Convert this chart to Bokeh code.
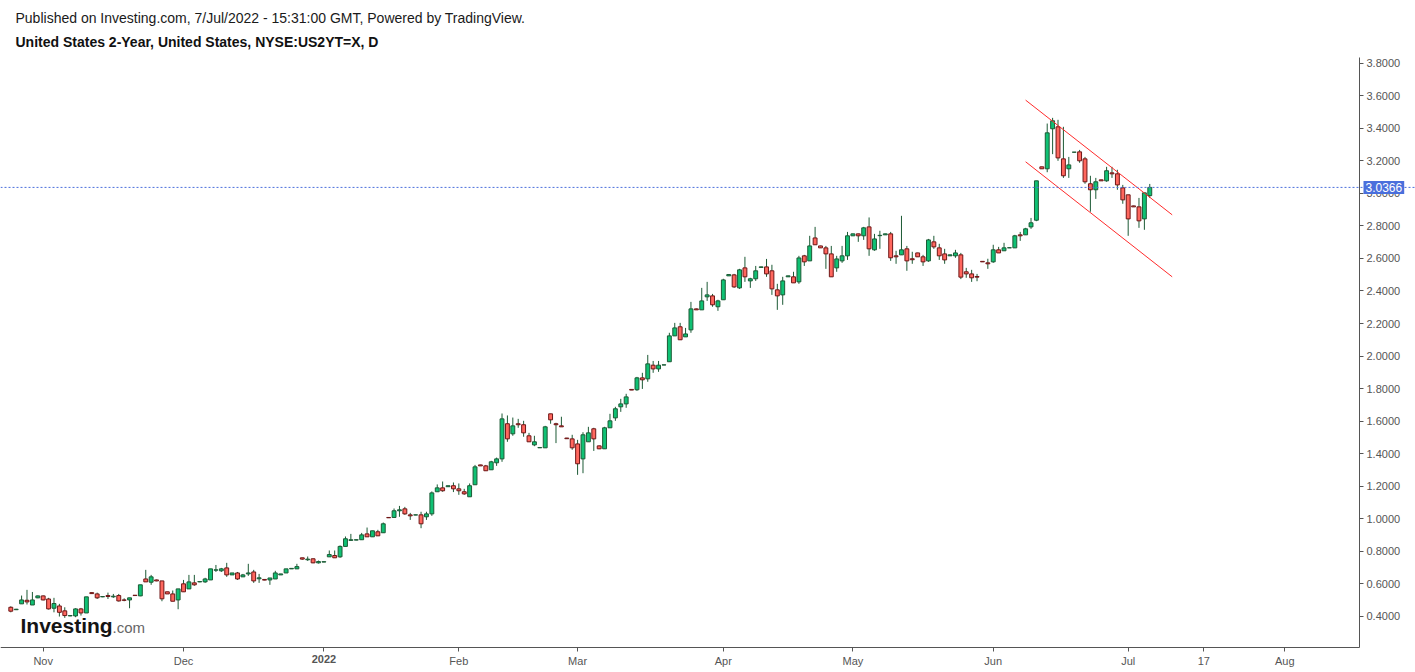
from bokeh.plotting import figure
from bokeh.models import Range1d, FixedTicker, NumeralTickFormatter, Span, Label, ColumnDataSource
from bokeh.embed import file_html
from bokeh.resources import INLINE

# ---------------- data (daily bars) ----------------
opens = [0.456, 0.441, 0.477, 0.499, 0.470, 0.514, 0.526, 0.507, 0.450, 0.464,
         0.434, 0.403, 0.403, 0.446, 0.421, 0.546, 0.538, 0.520, 0.528, 0.520,
         0.528, 0.501, 0.501, 0.530, 0.526, 0.630, 0.610, 0.624, 0.618, 0.551,
         0.538, 0.501, 0.600, 0.569, 0.606, 0.612, 0.612, 0.624, 0.684, 0.680,
         0.698, 0.655, 0.667, 0.643, 0.661, 0.673, 0.631, 0.627, 0.624, 0.630,
         0.655, 0.667, 0.692, 0.692, 0.760, 0.748, 0.754, 0.729, 0.734, 0.766,
         0.774, 0.766, 0.830, 0.867, 0.869, 0.871, 0.907, 0.889, 0.920, 0.914,
         1.008, 1.008, 1.049, 1.061, 1.024, 1.023, 1.024, 1.012, 1.030, 1.166,
         1.190, 1.197, 1.203, 1.184, 1.166, 1.135, 1.209, 1.331, 1.325, 1.301,
         1.344, 1.368, 1.584, 1.522, 1.584, 1.578, 1.510, 1.454, 1.436, 1.436,
         1.645, 1.584, 1.571, 1.496, 1.491, 1.460, 1.368, 1.473, 1.553, 1.448,
         1.430, 1.559, 1.620, 1.688, 1.706, 1.795, 1.793, 1.866, 1.860, 1.944,
         1.921, 1.945, 1.965, 2.124, 2.180, 2.118, 2.161, 2.290, 2.284, 2.364,
         2.370, 2.303, 2.346, 2.493, 2.499, 2.419, 2.542, 2.462, 2.475, 2.545,
         2.548, 2.524, 2.407, 2.376, 2.487, 2.487, 2.456, 2.616, 2.585, 2.726,
         2.677, 2.665, 2.628, 2.542, 2.585, 2.616, 2.739, 2.751, 2.739, 2.794,
         2.653, 2.740, 2.745, 2.751, 2.616, 2.622, 2.659, 2.598, 2.634, 2.610,
         2.585, 2.702, 2.665, 2.628, 2.616, 2.616, 2.622, 2.518, 2.505, 2.489,
         2.582, 2.573, 2.579, 2.653, 2.647, 2.665, 2.665, 2.745, 2.745, 2.794,
         2.835, 3.163, 3.151, 3.397, 3.409, 3.212, 3.151, 3.253, 3.255, 3.212,
         3.059, 3.022, 3.083, 3.077, 3.126, 3.120, 3.034, 2.991, 2.923, 2.917,
         2.843, 2.986]
highs = [0.462, 0.446, 0.528, 0.563, 0.550, 0.528, 0.528, 0.514, 0.514, 0.477,
         0.456, 0.407, 0.450, 0.452, 0.520, 0.548, 0.546, 0.524, 0.546, 0.538,
         0.538, 0.511, 0.514, 0.530, 0.594, 0.686, 0.655, 0.626, 0.618, 0.551,
         0.559, 0.569, 0.624, 0.655, 0.655, 0.614, 0.637, 0.692, 0.716, 0.698,
         0.729, 0.667, 0.673, 0.661, 0.723, 0.686, 0.661, 0.628, 0.636, 0.680,
         0.661, 0.692, 0.697, 0.723, 0.760, 0.768, 0.756, 0.743, 0.737, 0.805,
         0.805, 0.836, 0.891, 0.907, 0.872, 0.913, 0.946, 0.926, 0.932, 0.977,
         1.009, 1.063, 1.079, 1.073, 1.036, 1.025, 1.043, 1.043, 1.168, 1.211,
         1.229, 1.203, 1.223, 1.217, 1.184, 1.217, 1.331, 1.332, 1.331, 1.356,
         1.376, 1.647, 1.635, 1.622, 1.614, 1.602, 1.528, 1.510, 1.438, 1.571,
         1.645, 1.590, 1.627, 1.497, 1.516, 1.485, 1.532, 1.565, 1.559, 1.450,
         1.565, 1.645, 1.688, 1.737, 1.768, 1.797, 1.872, 1.897, 2.007, 1.970,
         1.970, 1.947, 2.143, 2.204, 2.204, 2.173, 2.333, 2.292, 2.419, 2.456,
         2.382, 2.346, 2.475, 2.502, 2.505, 2.536, 2.610, 2.481, 2.554, 2.549,
         2.597, 2.561, 2.444, 2.487, 2.494, 2.518, 2.616, 2.622, 2.739, 2.794,
         2.678, 2.677, 2.677, 2.616, 2.677, 2.763, 2.752, 2.752, 2.794, 2.852,
         2.751, 2.770, 2.752, 2.763, 2.647, 2.862, 2.677, 2.641, 2.635, 2.622,
         2.720, 2.739, 2.690, 2.659, 2.623, 2.653, 2.634, 2.542, 2.530, 2.505,
         2.583, 2.598, 2.684, 2.671, 2.696, 2.667, 2.745, 2.763, 2.788, 2.849,
         3.077, 3.164, 3.429, 3.464, 3.452, 3.409, 3.224, 3.254, 3.267, 3.224,
         3.108, 3.095, 3.084, 3.163, 3.163, 3.145, 3.052, 2.991, 2.924, 2.972,
         3.003, 3.058]
lows = [0.425, 0.439, 0.477, 0.473, 0.470, 0.512, 0.499, 0.442, 0.425, 0.399,
        0.391, 0.401, 0.395, 0.405, 0.421, 0.538, 0.507, 0.518, 0.507, 0.514,
        0.491, 0.493, 0.450, 0.526, 0.524, 0.612, 0.594, 0.616, 0.493, 0.538,
        0.493, 0.444, 0.551, 0.569, 0.588, 0.610, 0.606, 0.624, 0.673, 0.673,
        0.643, 0.655, 0.624, 0.643, 0.649, 0.606, 0.606, 0.622, 0.594, 0.630,
        0.655, 0.667, 0.692, 0.692, 0.748, 0.741, 0.727, 0.725, 0.733, 0.766,
        0.760, 0.760, 0.830, 0.867, 0.868, 0.871, 0.889, 0.889, 0.895, 0.914,
        1.005, 1.008, 1.012, 1.024, 0.993, 1.022, 0.942, 0.993, 1.018, 1.166,
        1.166, 1.197, 1.164, 1.147, 1.147, 1.135, 1.209, 1.325, 1.295, 1.301,
        1.325, 1.350, 1.473, 1.510, 1.559, 1.504, 1.473, 1.446, 1.435, 1.436,
        1.584, 1.465, 1.565, 1.491, 1.424, 1.270, 1.280, 1.473, 1.417, 1.428,
        1.430, 1.559, 1.602, 1.657, 1.682, 1.791, 1.786, 1.798, 1.842, 1.897,
        1.903, 1.944, 1.965, 2.124, 2.100, 2.118, 2.143, 2.284, 2.284, 2.339,
        2.303, 2.278, 2.346, 2.493, 2.419, 2.413, 2.456, 2.419, 2.462, 2.544,
        2.487, 2.376, 2.284, 2.315, 2.486, 2.450, 2.444, 2.554, 2.585, 2.684,
        2.665, 2.536, 2.487, 2.518, 2.573, 2.591, 2.739, 2.702, 2.714, 2.616,
        2.647, 2.659, 2.745, 2.585, 2.567, 2.622, 2.524, 2.567, 2.610, 2.554,
        2.579, 2.659, 2.591, 2.567, 2.615, 2.604, 2.473, 2.481, 2.456, 2.460,
        2.579, 2.536, 2.573, 2.634, 2.647, 2.664, 2.665, 2.708, 2.745, 2.782,
        2.829, 3.151, 3.130, 3.241, 3.200, 3.095, 3.095, 3.252, 3.188, 3.059,
        2.887, 2.966, 3.077, 3.071, 3.095, 3.022, 2.936, 2.739, 2.917, 2.788,
        2.776, 2.972]
closes = [0.432, 0.444, 0.501, 0.489, 0.501, 0.526, 0.501, 0.446, 0.479, 0.425,
          0.405, 0.405, 0.446, 0.421, 0.520, 0.540, 0.514, 0.522, 0.522, 0.524,
          0.495, 0.499, 0.514, 0.528, 0.594, 0.612, 0.643, 0.618, 0.508, 0.538,
          0.493, 0.569, 0.551, 0.612, 0.594, 0.614, 0.630, 0.692, 0.686, 0.692,
          0.655, 0.667, 0.630, 0.655, 0.667, 0.618, 0.637, 0.623, 0.636, 0.667,
          0.661, 0.692, 0.695, 0.706, 0.752, 0.752, 0.729, 0.737, 0.736, 0.780,
          0.760, 0.830, 0.877, 0.871, 0.871, 0.901, 0.889, 0.926, 0.895, 0.969,
          1.006, 1.049, 1.055, 1.030, 1.018, 1.024, 0.969, 1.030, 1.159, 1.190,
          1.172, 1.203, 1.184, 1.172, 1.153, 1.203, 1.319, 1.325, 1.295, 1.350,
          1.368, 1.614, 1.491, 1.571, 1.578, 1.528, 1.473, 1.473, 1.438, 1.565,
          1.608, 1.578, 1.565, 1.492, 1.436, 1.338, 1.516, 1.528, 1.491, 1.430,
          1.559, 1.602, 1.676, 1.706, 1.749, 1.791, 1.866, 1.854, 1.952, 1.921,
          1.944, 1.946, 2.124, 2.173, 2.100, 2.136, 2.290, 2.284, 2.339, 2.376,
          2.315, 2.339, 2.468, 2.501, 2.425, 2.530, 2.487, 2.475, 2.524, 2.548,
          2.505, 2.413, 2.370, 2.462, 2.493, 2.450, 2.603, 2.579, 2.677, 2.684,
          2.665, 2.628, 2.487, 2.597, 2.616, 2.739, 2.751, 2.739, 2.788, 2.659,
          2.720, 2.742, 2.751, 2.604, 2.610, 2.653, 2.585, 2.592, 2.610, 2.579,
          2.714, 2.671, 2.616, 2.591, 2.622, 2.634, 2.485, 2.505, 2.481, 2.485,
          2.579, 2.567, 2.653, 2.634, 2.665, 2.666, 2.739, 2.739, 2.782, 2.819,
          3.077, 3.151, 3.372, 3.446, 3.218, 3.108, 3.175, 3.253, 3.200, 3.071,
          3.022, 3.071, 3.077, 3.139, 3.120, 3.052, 2.960, 2.843, 2.917, 2.831,
          3.003, 3.0366]

last_price = 3.0366

# x-axis: bar index of first bar of each month and their labels
x_tick_bars = [6, 32, 58, 83, 105, 132, 156, 182, 207, 221, 236]
x_tick_labels = ["Nov", "Dec", "2022", "Feb", "Mar", "Apr", "May", "Jun", "Jul", "17", "Aug"]
bold_tick_label = "2022"

y_ticks = [0.4, 0.6, 0.8, 1.0, 1.2, 1.4, 1.6, 1.8, 2.0, 2.2, 2.4, 2.6, 2.8, 3.0, 3.2, 3.4, 3.6, 3.8]

# descending channel drawn on the chart (bar index, price)
channel_x = [188.0, 215.15]
channel_upper = [3.573, 2.868]
channel_lower = [3.194, 2.487]

title_line1 = "Published on Investing.com, 7/Jul/2022 - 15:31:00 GMT, Powered by TradingView."
title_line2 = "United States 2-Year, United States, NYSE:US2YT=X, D"

# ---------------- layout / styling ----------------
FONT = "Liberation Sans"
UP_FILL, UP_LINE = "#0fc174", "#1c5a35"
DN_FILL, DN_LINE = "#ff675e", "#6e1616"
WICK = "#1c5a35"
AXIS_C = "#555555"
BLUE = "#4a6fdc"

W, H = 1415, 672
BAR_PX = 5.398          # pixels per bar
X0_PX = 10.3            # pixel of bar 0
PRICE_PX = 162.7        # pixels per 1.0 of yield
REF_PX, REF_V = 62.7, 3.8
AXIS_RIGHT_PX = 1359    # price axis line
AXIS_BOTTOM_PX = 647    # time axis line
AXIS_TOP_PX = 57


def px_to_x(px):
    return (px - X0_PX) / BAR_PX


def px_to_y(py):
    return REF_V - (py - REF_PX) / PRICE_PX


n = len(closes)
xs = list(range(n))
up = [c >= o for o, c in zip(opens, closes)]
src = ColumnDataSource(dict(
    x=xs,
    top=[max(o, c) for o, c in zip(opens, closes)],
    bottom=[min(o, c) for o, c in zip(opens, closes)],
    high=highs, low=lows,
    fill=[UP_FILL if u else DN_FILL for u in up],
    line=[UP_LINE if u else DN_LINE for u in up],
))

p = figure(width=W, height=H, output_backend="svg", toolbar_location=None,
           x_range=Range1d(px_to_x(0), px_to_x(W)), y_range=Range1d(px_to_y(H), px_to_y(0)),
           y_axis_location="right", min_border=0)
p.outline_line_color = None
p.grid.visible = False
p.background_fill_color = "white"
p.border_fill_color = "white"

# axes (drawn at fixed locations inside the full-canvas frame)
ya = p.yaxis[0]
ya.fixed_location = px_to_x(AXIS_RIGHT_PX)
ya.bounds = (px_to_y(AXIS_BOTTOM_PX), px_to_y(AXIS_TOP_PX))
ya.ticker = FixedTicker(ticks=y_ticks)
ya.formatter = NumeralTickFormatter(format="0.0000")
xa = p.xaxis[0]
xa.fixed_location = px_to_y(AXIS_BOTTOM_PX)
xa.bounds = (px_to_x(0), px_to_x(AXIS_RIGHT_PX))
xa.ticker = FixedTicker(ticks=x_tick_bars)
xa.major_label_overrides = {b: ("" if lab == bold_tick_label else lab)
                            for b, lab in zip(x_tick_bars, x_tick_labels)}
for ax in (xa, ya):
    ax.axis_line_color = AXIS_C
    ax.major_tick_line_color = AXIS_C
    ax.major_tick_out = 4
    ax.major_tick_in = 0
    ax.minor_tick_line_color = None
    ax.major_label_text_font = FONT
    ax.major_label_text_font_size = "11px"
    ax.major_label_text_color = AXIS_C
xa.major_label_standoff = 3
ya.major_label_standoff = 3

# candles
p.segment(x0="x", y0="high", x1="x", y1="low", source=src, line_color=WICK, line_width=1)
p.vbar(x="x", width=0.72, top="top", bottom="bottom", source=src,
       fill_color="fill", line_color="line", line_width=1)

# channel
p.line(channel_x, channel_upper, line_color="#ff2b2b", line_width=1)
p.line(channel_x, channel_lower, line_color="#ff2b2b", line_width=1)

# last price line and tag
p.add_layout(Span(location=last_price, dimension="width", line_color=BLUE,
                  line_dash="2 2", line_width=1))
p.add_layout(Label(x=px_to_x(AXIS_RIGHT_PX), y=last_price, x_offset=4,
                   text=f"{last_price:.4f}", text_color="white", text_font=FONT,
                   text_font_size="12px", text_baseline="middle", text_align="left",
                   background_fill_color=BLUE, padding=2))

# bold year tick label
b2022 = x_tick_bars[x_tick_labels.index(bold_tick_label)]
p.add_layout(Label(x=b2022, y=px_to_y(AXIS_BOTTOM_PX + 7), text=bold_tick_label,
                   text_font=FONT, text_font_size="11px", text_font_style="bold",
                   text_color=AXIS_C, text_align="center", text_baseline="top"))

# header texts (y = vertical centre on the canvas)
p.add_layout(Label(x=15, x_units="screen", y=H - 17, y_units="screen",
                   text=title_line1, text_font=FONT, text_font_size="14px",
                   text_color="#1a1a1a", text_baseline="middle"))
p.add_layout(Label(x=15, x_units="screen", y=H - 41, y_units="screen",
                   text=title_line2, text_font=FONT, text_font_size="14px",
                   text_font_style="bold", text_color="#111111", text_baseline="middle"))

# watermark logo
p.add_layout(Label(x=20, x_units="screen", y=H - 625, y_units="screen", text="Investing",
                   text_font=FONT, text_font_size="21px", text_font_style="bold",
                   text_color="#141414", text_baseline="middle"))
p.add_layout(Label(x=112, x_units="screen", y=H - 627, y_units="screen", text=".com",
                   text_font=FONT, text_font_size="15px",
                   text_color="#666666", text_baseline="middle"))

open("out.html", "w").write(file_html(p, INLINE))
